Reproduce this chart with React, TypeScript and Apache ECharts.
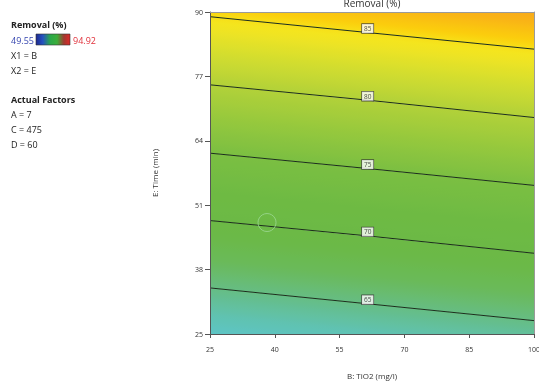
import React, { useEffect, useRef } from "react";
import * as echarts from "echarts";

// ---- data ----
const xTicks = [25, 40, 55, 70, 85, 100]; // B: TiO2 (mg/l)
const yTicks = [25, 38, 51, 64, 77, 90]; // E: Time (min)
const contourLevels = [65, 70, 75, 80, 85];
const timeAtTiO2Min = [34.3, 47.9, 61.5, 75.3, 89.05]; // E where contour meets B = 25
const timeAtTiO2Max = [27.7, 41.3, 55.0, 68.7, 82.5]; // E where contour meets B = 100
const labelTiO2 = 61.5; // B of the contour labels
const timeAtLabel = [31.1, 44.8, 58.4, 72.2, 85.85];
const designPoints = [[38.2, 47.5]];
const removalMin = 49.55;
const removalMax = 94.92;
const factorLines = ["X1 = B", "X2 = E"];
const actualFactors = ["A = 7", "C = 475", "D = 60"];

// ---- colour map (style) ----
const CMAP: [number, string][] = [
  [49.55, "#1f2fa0"],
  [55, "#4aa6d8"],
  [61, "#5cc6cf"],
  [63, "#60c2b0"],
  [65, "#66bd84"],
  [67, "#6aba5a"],
  [69, "#6bb947"],
  [72, "#6eba43"],
  [75, "#7bbf42"],
  [78, "#9bca3c"],
  [80, "#b2d139"],
  [82, "#cfdc30"],
  [84, "#eee424"],
  [84.8, "#f6e51c"],
  [85.6, "#fbcf0c"],
  [87, "#f9b416"],
  [88.5, "#f7a01e"],
  [92, "#f07020"],
  [94.92, "#e04020"],
];
function hex(h: string) {
  return [parseInt(h.slice(1, 3), 16), parseInt(h.slice(3, 5), 16), parseInt(h.slice(5, 7), 16)];
}
function cmap(v: number): string {
  if (v <= CMAP[0][0]) return CMAP[0][1];
  for (let i = 1; i < CMAP.length; i++) {
    if (v <= CMAP[i][0]) {
      const [v0, c0] = CMAP[i - 1];
      const [v1, c1] = CMAP[i];
      const t = (v - v0) / (v1 - v0);
      const a = hex(c0), b = hex(c1);
      const c = a.map((x, j) => Math.round(x + (b[j] - x) * t));
      return `rgb(${c[0]},${c[1]},${c[2]})`;
    }
  }
  return CMAP[CMAP.length - 1][1];
}

const FONT = "'Open Sans', 'Noto Sans', sans-serif";

export default function App() {
  const ref = useRef<HTMLDivElement>(null);
  useEffect(() => {
    if (!ref.current) return;
    const chart = echarts.init(ref.current, null, { renderer: "svg" });
    const xMin = xTicks[0], xMax = xTicks[xTicks.length - 1];
    const yMin = yTicks[0], yMax = yTicks[yTicks.length - 1];
    const n = contourLevels.length;
    const stripIds = Array.from({ length: n + 1 }, (_, k) => k);

    const renderItem = (params: any, api: any) => {
      const k = api.value(2) as number;
      const lineL = (i: number) => api.coord([xMin, timeAtTiO2Min[i]]);
      const lineR = (i: number) => api.coord([xMax, timeAtTiO2Max[i]]);
      const lowL = k === 0 ? api.coord([xMin, yMin]) : lineL(k - 1);
      const lowR = k === 0 ? api.coord([xMax, yMin]) : lineR(k - 1);
      const upL = k === n ? api.coord([xMin, yMax]) : lineL(k);
      const upR = k === n ? api.coord([xMax, yMax]) : lineR(k);
      const refIdx = k === n ? n - 1 : k;
      const A = lineL(refIdx), B = lineR(refIdx);
      const dx = B[0] - A[0], dy = B[1] - A[1];
      const len = Math.hypot(dx, dy);
      let nx = -dy / len, ny = dx / len; // points toward lower values
      const sign = k === n ? -1 : 1;
      nx *= sign; ny *= sign;
      const P0 = lineL(0), Q0 = lineR(0), P4 = lineL(n - 1);
      const d0x = Q0[0] - P0[0], d0y = Q0[1] - P0[1];
      const dist = Math.abs(d0x * (P4[1] - P0[1]) - d0y * (P4[0] - P0[0])) / Math.hypot(d0x, d0y);
      const pxPerUnit = dist / (contourLevels[n - 1] - contourLevels[0]);
      const pts = [lowL, lowR, upR, upL];
      let D = 0;
      for (const p of pts) D = Math.max(D, (p[0] - A[0]) * nx + (p[1] - A[1]) * ny);
      const L = contourLevels[refIdx];
      const stops = [];
      const S = 12;
      for (let s = 0; s <= S; s++) {
        const f = s / S;
        const v = L - sign * (f * D) / pxPerUnit;
        stops.push({ offset: f, color: cmap(v) });
      }
      return {
        type: "polygon",
        shape: { points: pts },
        silent: true,
        style: {
          fill: {
            type: "linear",
            x: A[0], y: A[1], x2: A[0] + nx * D, y2: A[1] + ny * D,
            global: true,
            colorStops: stops,
          },
          stroke: null,
        },
      };
    };

    const lineSeries = contourLevels.map((L, i) => ({
      type: "line",
      name: String(L),
      data: [
        [xMin, timeAtTiO2Min[i]],
        [labelTiO2, timeAtLabel[i]],
        [xMax, timeAtTiO2Max[i]],
      ],
      symbol: "none",
      silent: true,
      z: 3,
      lineStyle: { color: "#1b2d1b", width: 1 },
    }));

    const gridLeft = 210, gridRight = 5, gridTop = 12, gridBottom = 48;
    const W = 539;
    const tx = (s: string, x: number, y: number, opts: any = {}) => ({
      type: "text",
      x, y,
      silent: true,
      style: {
        text: s,
        fill: opts.fill || "#222",
        font: `${opts.bold ? "bold " : ""}${opts.size || 9}px ${FONT}`,
        verticalAlign: "middle",
        align: opts.align || "left",
      },
    });

    const graphics: any[] = [
      tx("Removal (%)", 11, 24, { bold: true }),
      tx(String(removalMin), 11, 40, { fill: "#3848b0" }),
      {
        type: "rect",
        shape: { x: 36, y: 34, width: 34, height: 11 },
        silent: true,
        style: {
          fill: new echarts.graphic.LinearGradient(0, 0, 1, 0, [
            { offset: 0, color: "#1d2a8f" },
            { offset: 0.2, color: "#2552c0" },
            { offset: 0.42, color: "#2aa84a" },
            { offset: 0.62, color: "#3cae3a" },
            { offset: 0.82, color: "#a03a30" },
            { offset: 1, color: "#e02828" },
          ]),
          stroke: "#333",
          lineWidth: 0.6,
        },
      },
      tx(String(removalMax), 73, 40, { fill: "#e0303a" }),
      ...factorLines.map((s, i) => tx(s, 11, 55 + i * 15)),
      tx("Actual Factors", 11, 99, { bold: true }),
      ...actualFactors.map((s, i) => tx(s, 11, 114 + i * 15)),
      {
        type: "text",
        x: gridLeft + (W - gridLeft - gridRight) / 2,
        y: 8,
        silent: true,
        style: {
          text: "Removal (%)",
          fill: "#333",
          font: `10px ${FONT}`,
          align: "center",
          verticalAlign: "bottom",
        },
      },
    ];

    const axisLabel = { fontSize: 7, color: "#333", fontFamily: FONT };
    chart.setOption({
      animation: false,
      grid: {
        left: gridLeft,
        right: gridRight,
        top: gridTop,
        bottom: gridBottom,
        containLabel: false,
        outerBoundsMode: "none",
      },
      xAxis: [
        {
          type: "value",
          min: xMin,
          max: xMax,
          interval: xTicks[1] - xTicks[0],
          name: "B: TiO2 (mg/l)",
          nameLocation: "middle",
          nameGap: 37,
          nameTextStyle: { fontSize: 8, color: "#333", fontFamily: FONT },
          axisLine: { lineStyle: { color: "#555", width: 1 } },
          axisTick: { show: true, length: 4, lineStyle: { color: "#555" } },
          axisLabel: { ...axisLabel, margin: 12 },
          splitLine: { show: false },
          z: 10,
        },
        {
          type: "value",
          position: "top",
          min: xMin,
          max: xMax,
          axisLine: { show: true, lineStyle: { color: "#9a9a9a", width: 1 } },
          axisTick: { show: false },
          axisLabel: { show: false },
          splitLine: { show: false },
          z: 10,
        },
      ],
      yAxis: [
        {
          type: "value",
          min: yMin,
          max: yMax,
          interval: yTicks[1] - yTicks[0],
          name: "E: Time (min)",
          nameLocation: "middle",
          nameGap: 52,
          nameRotate: 90,
          nameTextStyle: { fontSize: 8, color: "#333", fontFamily: FONT },
          axisLine: { show: true, lineStyle: { color: "#555", width: 1 } },
          axisTick: { show: true, length: 5, lineStyle: { color: "#555" } },
          axisLabel: { ...axisLabel, margin: 7 },
          splitLine: { show: false },
          z: 10,
        },
        {
          type: "value",
          position: "right",
          min: yMin,
          max: yMax,
          axisLine: { show: true, lineStyle: { color: "#9a9a9a", width: 1 } },
          axisTick: { show: false },
          axisLabel: { show: false },
          splitLine: { show: false },
          z: 10,
        },
      ],
      graphic: graphics,
      series: [
        {
          type: "custom",
          renderItem,
          clip: true,
          silent: true,
          z: 1,
          data: stripIds.map((k) => [xMin, yMin, k]),
        },
        ...lineSeries,
        {
          type: "scatter",
          silent: true,
          z: 4,
          data: designPoints,
          symbol: "circle",
          symbolSize: 18,
          itemStyle: { color: "rgba(0,0,0,0)", borderColor: "#9cd893", borderWidth: 1 },
        },
        {
          type: "scatter",
          silent: true,
          z: 5,
          symbolSize: 1,
          itemStyle: { color: "rgba(0,0,0,0)" },
          data: contourLevels.map((L, i) => [labelTiO2, timeAtLabel[i], L]),
          label: {
            show: true,
            position: "inside",
            offset: [0, -4],
            formatter: (p: any) => String(p.value[2]),
            fontSize: 6.5,
            color: "#222",
            fontFamily: FONT,
            backgroundColor: "#fff",
            borderColor: "#333",
            borderWidth: 0.7,
            padding: [1, 2, 0, 2],
            lineHeight: 8,
          },
        },
      ],
    });
    return () => chart.dispose();
  }, []);
  return (
    <div
      ref={ref}
      style={{ position: "fixed", left: 0, top: 0, width: 539, height: 382 }}
    />
  );
}
